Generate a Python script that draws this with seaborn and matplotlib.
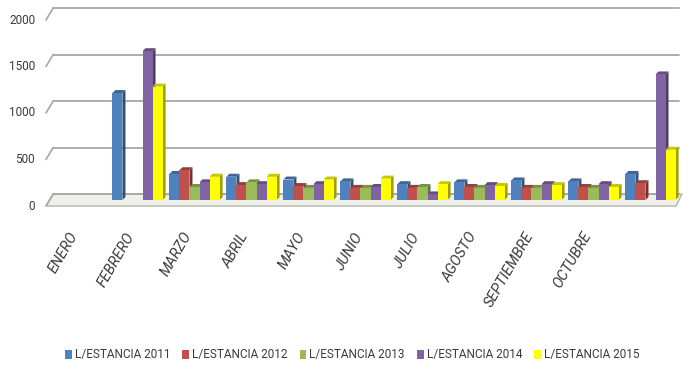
import numpy as np
import pandas as pd
import matplotlib
matplotlib.use("Agg")
import matplotlib.pyplot as plt
from matplotlib.patches import Polygon, Patch
from matplotlib.transforms import ScaledTranslation
import seaborn as sns

# Monthly stay figures per year
meses = ["ENERO", "FEBRERO", "MARZO", "ABRIL", "MAYO", "JUNIO", "JULIO",
         "AGOSTO", "SEPTIEMBRE", "OCTUBRE", ""]
series = ["L/ESTANCIA 2011", "L/ESTANCIA 2012", "L/ESTANCIA 2013",
          "L/ESTANCIA 2014", "L/ESTANCIA 2015"]
estancia_2011 = [np.nan, 1150, 280, 250, 220, 200, 170, 190, 210, 200, 280]
estancia_2012 = [np.nan, 0, 320, 160, 150, 130, 130, 140, 130, 140, 180]
estancia_2013 = [np.nan, 0, 140, 190, 130, 130, 140, 130, 130, 130, 0]
estancia_2014 = [np.nan, 1600, 190, 170, 170, 140, 60, 160, 170, 170, 1350]
estancia_2015 = [np.nan, 1220, 250, 250, 220, 230, 170, 150, 160, 140, 540]
y_ticks = [0, 500, 1000, 1500, 2000]

colores = ["#4F81BD", "#C0504D", "#9BBB59", "#8064A2", "#FFFF00"]

rows = []
for nombre, valores in zip(series, [estancia_2011, estancia_2012, estancia_2013,
                                    estancia_2014, estancia_2015]):
    for mes, v in zip(meses, valores):
        rows.append({"mes": mes, "serie": nombre, "valor": v})
df = pd.DataFrame(rows).dropna()

sns.set_theme(style="white")
plt.rcParams["font.family"] = ["Roboto", "DejaVu Sans"]
txt_c = "#3A3A3A"

W, H = 688, 369
fig = plt.figure(figsize=(W / 100, H / 100), dpi=100)
ax_left, ax_right = 52, 679
ax_top, ax_bottom = 14, 200
ax = fig.add_axes([ax_left / W, (H - ax_bottom) / H,
                   (ax_right - ax_left) / W, (ax_bottom - ax_top) / H])

sns.barplot(data=df, x="mes", y="valor", hue="serie", order=meses,
            hue_order=series, palette=colores, width=0.88, errorbar=None,
            saturation=1, legend=False, ax=ax, linewidth=0)

ax.set_xlim(-0.5, len(meses) - 0.5)
ax.set_ylim(0, 2000)
for s in ax.spines.values():
    s.set_visible(False)
ax.set_xlabel("")
ax.set_ylabel("")

px_x = len(meses) / (ax_right - ax_left)      # data units per pixel (x)
px_y = 2000 / (ax_bottom - ax_top)            # data units per pixel (y)
depth = 6                                      # half-depth of the floor, px
grid_c = "#A6A6A6"
yt = ax.get_yaxis_transform()
fx = depth / (ax_right - ax_left)

# floor slab
floor = Polygon([(-fx, -depth * px_y), (1 - fx * 0.5, -depth * px_y),
                 (1 + fx * 0.5, depth * px_y), (fx * 0.2, depth * px_y)],
                closed=True, transform=yt, facecolor="#F0F0EA",
                edgecolor="#B5B5A8", lw=1, clip_on=False, zorder=0.5)
ax.add_patch(floor)

# back-wall gridlines with their slanted side-wall edges
for v in y_ticks:
    yb = v + depth * px_y
    yf = v - depth * px_y
    ax.plot([fx * 0.2, 1.0], [yb, yb], color=grid_c, lw=1.3,
            transform=yt, clip_on=False, zorder=0.6)
    ax.plot([-fx, fx * 0.2], [yf, yb], color=grid_c, lw=1.2,
            transform=yt, clip_on=False, zorder=0.6)
    ax.text(-0.027, yf, f"{v}", transform=yt, ha="right", va="center",
            fontsize=8.5, color=txt_c)
ax.set_yticks([])

# give the columns a bit of depth: darker side and top faces
dx = 3 * px_x
dy = 3 * px_y


def shade(c, f):
    r, g, b = matplotlib.colors.to_rgb(c)
    return (r * f, g * f, b * f)


for k, cont in enumerate(ax.containers):
    base_z = 2 + 2 * k
    for p in cont.patches:
        h = p.get_height()
        p.set_zorder(base_z + 1)
        if not np.isfinite(h) or h <= 0:
            continue
        x0, w = p.get_x(), p.get_width()
        col = p.get_facecolor()
        side = Polygon([(x0 + w, 0), (x0 + w, h), (x0 + w + dx, h + dy),
                        (x0 + w + dx, dy)], closed=True,
                       facecolor=shade(col, 0.62), edgecolor="none",
                       zorder=base_z)
        top = Polygon([(x0, h), (x0 + w, h), (x0 + w + dx, h + dy),
                       (x0 + dx, h + dy)], closed=True,
                      facecolor=shade(col, 0.78), edgecolor="none",
                      zorder=base_z)
        ax.add_patch(side)
        ax.add_patch(top)

# month labels
ax.set_xticks(range(len(meses)))
ax.set_xticklabels(meses, rotation=60, ha="right", va="center",
                   rotation_mode="anchor", fontstyle="italic",
                   fontsize=10.5, color=txt_c)
ax.tick_params(axis="x", length=0, pad=24)
shift = ScaledTranslation(-6 / 100, 0, fig.dpi_scale_trans)
for lbl in ax.get_xticklabels():
    lbl.set_transform(lbl.get_transform() + shift)

handles = [Patch(facecolor=c, edgecolor="none", label=s)
           for c, s in zip(colores, series)]
fig.legend(handles=handles, loc="center", bbox_to_anchor=(0.512, 0.038),
           ncol=5, frameon=False, fontsize=8.5, handlelength=0.55,
           handleheight=0.8, handletextpad=0.25, columnspacing=1.05,
           labelcolor=txt_c)

fig.savefig("out.png", dpi=100)
